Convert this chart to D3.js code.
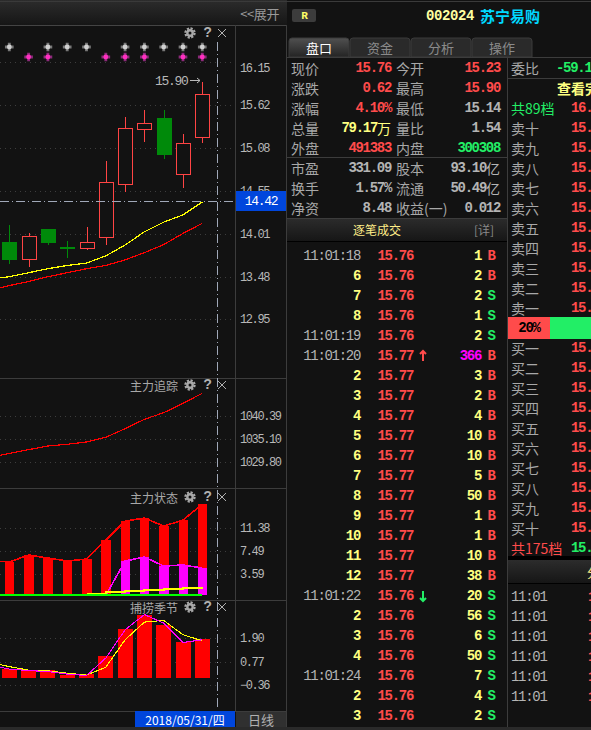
<!DOCTYPE html>
<html>
<head>
<meta charset="utf-8">
<script src="https://cdn.jsdelivr.net/npm/d3@7"></script>
<style>
  html, body { margin: 0; padding: 0; background: #111; overflow: hidden; }
  text { dominant-baseline: central; }
  .cjk { font-family: "Noto Sans CJK SC", sans-serif; }
  .num { font-family: "Liberation Mono", "DejaVu Sans Mono", monospace; letter-spacing: -1.3px; }
  .crisp { shape-rendering: crispEdges; }
</style>
</head>
<body>
<div id="container"></div>
<script>
// Trading days on the chart, the first one only shows up in the moving averages
let dates = ["05/16", "05/17", "05/18", "05/21", "05/22", "05/23", "05/24", "05/25", "05/28", "05/29", "05/30", "05/31"];
let candleDates = dates.slice(1);

// Candles
let opens  = [13.91, 13.70, 14.07, 13.85, 13.83, 13.97, 14.63, 15.32, 15.46, 14.76, 15.23];
let closes = [13.69, 13.99, 13.90, 13.82, 13.91, 14.66, 15.33, 15.40, 15.00, 15.14, 15.76];
let highs  = [14.12, 14.03, 14.08, 13.93, 14.10, 14.92, 15.47, 15.56, 15.56, 15.26, 15.90];
let lows   = [13.64, 13.60, 13.87, 13.71, 13.81, 13.87, 14.53, 15.16, 14.95, 14.58, 15.14];
let maYellow = [13.45, 13.48, 13.53, 13.58, 13.62, 13.65, 13.74, 13.875, 14.04, 14.16, 14.25, 14.41];
let maRed    = [13.31, 13.37, 13.42, 13.48, 13.53, 13.58, 13.62, 13.69, 13.78, 13.88, 14.02, 14.145];
let priceTicks = [16.15, 15.62, 15.08, 14.55, 14.01, 13.48, 12.95];
let greyStarDates = ["05/17", "05/21", "05/22", "05/23", "05/25", "05/28", "05/29", "05/30", "05/31"];
let pinkStarDates = ["05/18", "05/21", "05/24", "05/25", "05/28", "05/30", "05/31"];

// 主力追踪
let trackLine = [1030.96, 1031.83, 1032.71, 1033.56, 1033.95, 1034.48, 1035.56, 1037.54, 1039.70, 1041.22, 1043.38, 1045.68];
let trackTicks = [1040.39, 1035.10, 1029.80];

// 主力状态
let stateRed = [5.83, 5.60, 6.78, 6.27, 5.77, 6.11, 9.30, 12.49, 13.00, 11.65, 12.66, 15.35];
let statePinkDates = ["05/24", "05/25", "05/28", "05/29", "05/30", "05/31"];
let statePink = [0, 5.77, 6.44, 4.93, 5.10, 4.59];
let stateYellowDates = ["05/23", "05/24", "05/25", "05/28", "05/29", "05/30", "05/31"];
let stateYellow = [0.28, 0.50, 0.70, 0.95, 1.12, 1.29, 1.46];
let stateTicks = [11.38, 7.49, 3.59];

// 捕捞季节
let seasonBars = [0.42, 0.37, 0.38, 0.14, 0.16, 1.06, 2.36, 3.03, 2.55, 1.73, 1.88];
let seasonYellow = [0.74, 0.54, 0.37, 0.34, 0.22, 0.13, 0.51, 1.83, 2.68, 2.76, 2.07, 1.78];
let seasonPink = [0.61, 0.42, 0.35, 0.30, 0.18, 0.11, 0.95, 2.31, 3.04, 2.63, 1.70, 1.83];
let seasonTicks = [1.90, 0.77, -0.36];

// Quote table
let quoteLabelsA = ["现价", "涨跌", "涨幅", "总量", "外盘", "市盈", "换手", "净资"];
let quoteValuesA = ["15.76", "0.62", "4.10%", "79.17万", "491383", "331.09", "1.57%", "8.48"];
let quoteColorsA = ["red", "red", "red", "yellow", "red", "grey", "grey", "grey"];
let quoteLabelsB = ["今开", "最高", "最低", "量比", "内盘", "股本", "流通", "收益(一)"];
let quoteValuesB = ["15.23", "15.90", "15.14", "1.54", "300308", "93.10亿", "50.49亿", "0.012"];
let quoteColorsB = ["red", "red", "grey", "grey", "green", "grey", "grey", "grey"];

// Trades
let tradeTimes = ["11:01:18", "6", "7", "8", "11:01:19", "11:01:20", "2", "3", "4", "5", "6", "7", "8", "9", "10", "11", "12", "11:01:22", "2", "3", "4", "11:01:24", "2", "3"];
let tradePrices = [15.76, 15.76, 15.76, 15.76, 15.76, 15.77, 15.77, 15.77, 15.77, 15.77, 15.77, 15.77, 15.77, 15.77, 15.77, 15.77, 15.77, 15.76, 15.76, 15.76, 15.76, 15.76, 15.76, 15.76];
let tradeVolumes = [1, 2, 2, 1, 2, 366, 3, 2, 4, 10, 10, 5, 50, 1, 1, 10, 38, 20, 56, 6, 50, 7, 4, 2];
let tradeSides = ["B", "B", "S", "S", "S", "B", "B", "B", "B", "B", "B", "B", "B", "B", "B", "B", "B", "S", "S", "S", "S", "S", "S", "S"];

// Order book
let sellLabels = ["卖十", "卖九", "卖八", "卖七", "卖六", "卖五", "卖四", "卖三", "卖二", "卖一"];
let buyLabels = ["买一", "买二", "买三", "买四", "买五", "买六", "买七", "买八", "买九", "买十"];
let tickTimes = ["11:01", "11:01", "11:01", "11:01", "11:01", "11:01"];

let colors = { red: "#ff4b4b", yellow: "#ffff80", grey: "#b4b4b4", green: "#22ee66" };
let w = 591, h = 730;
let plotRight = 235;

let svg = d3.select("#container").append("svg").attr("width", w).attr("height", h)
  .style("display", "block").style("background", "#121212");

// Small helper for all the plain labels
function label(x, y, str, color, size, anchor, cls, weight) {
  return svg.append("text").attr("x", x).attr("y", y).text(str)
    .attr("fill", color).attr("font-size", size)
    .attr("text-anchor", anchor || "start")
    .attr("class", cls || "cjk")
    .attr("font-weight", weight || "normal");
}
function hline(x1, x2, y, color) {
  svg.append("line").attr("class", "crisp").attr("x1", x1).attr("x2", x2).attr("y1", y).attr("y2", y).attr("stroke", color);
}
function vline(x, y1, y2, color) {
  svg.append("line").attr("class", "crisp").attr("x1", x).attr("x2", x).attr("y1", y1).attr("y2", y2).attr("stroke", color);
}
function box(x, y, width, height, fill) {
  return svg.append("rect").attr("class", "crisp").attr("x", x).attr("y", y).attr("width", width).attr("height", height).attr("fill", fill);
}

// Gradients for the title strips
let defs = svg.append("defs");
let grad = defs.append("linearGradient").attr("id", "strip").attr("x1", 0).attr("x2", 0).attr("y1", 0).attr("y2", 1);
grad.append("stop").attr("offset", "0%").attr("stop-color", "#2c2c2c");
grad.append("stop").attr("offset", "100%").attr("stop-color", "#161616");
let gradTab = defs.append("linearGradient").attr("id", "tabOn").attr("x1", 0).attr("x2", 0).attr("y1", 0).attr("y2", 1);
gradTab.append("stop").attr("offset", "0%").attr("stop-color", "#505050");
gradTab.append("stop").attr("offset", "100%").attr("stop-color", "#242424");

// Shared x scale, bars sit on these points
let x = d3.scalePoint().domain(dates).range([-10, 202.3]);

// y scales for the four panes
let yPrice = d3.scaleLinear().domain([16.15, 12.95]).range([62.3, 319.3]);
let yTrack = d3.scaleLinear().domain([1040.39, 1029.80]).range([416.3, 462.3]);
let yState = d3.scaleLinear().domain([0, 11.38]).range([595.3, 527.7]);
let ySeason = d3.scaleLinear().domain([1.90, -0.36]).range([638.3, 685.3]);

// Pane frames
box(0, 0, 287, 25, "url(#strip)");
hline(0, 591, 1, "#3a3a3a");
hline(0, 287, 25, "#444");
label(279, 13, "<<展开", "#9a9a9a", 13, "end").attr("letter-spacing", -0.4);
vline(235.5, 25, 711, "#3c3c3c");
vline(286.5, 25, 730, "#3c3c3c");
[378, 488, 600, 711].forEach(function(py) { hline(0, 287, py, "#3c3c3c"); });

// Dotted grid and tick labels from the d3 axes
function drawAxis(scale, ticks, fmt) {
  svg.append("g").call(d3.axisLeft(scale).tickValues(ticks).tickSize(-plotRight).tickFormat(""))
    .call(function(g) { g.select(".domain").remove(); })
    .call(function(g) { g.selectAll("line").attr("stroke", "#3d3d3d").attr("stroke-dasharray", "1,4").attr("class", "crisp"); });
  return svg.append("g").attr("transform", "translate(" + plotRight + ",0)")
    .call(d3.axisRight(scale).tickValues(ticks).tickSize(0).tickPadding(5).tickFormat(fmt))
    .call(function(g) { g.select(".domain").remove(); })
    .call(function(g) {
      g.selectAll("text").attr("fill", "#b8b8b8").attr("font-size", 12).attr("dy", 0.5)
        .attr("letter-spacing", -1.4)
        .attr("font-family", "'Liberation Mono', monospace");
    });
}
let f2 = d3.format(".2f");
// top price label hangs below its grid line in the original
drawAxis(yPrice, priceTicks, f2).selectAll("text")
  .attr("dy", function(d) { return d == priceTicks[0] ? 6 : 0.5; });
drawAxis(yTrack, trackTicks, f2);
drawAxis(yState, stateTicks, f2);
drawAxis(ySeason, seasonTicks, function(d) { return f2(d).replace("-", "−"); });

// Signal stars above the candles
function stars(list, py, light, dark) {
  let g = svg.append("g");
  g.selectAll("path").data(list).enter().append("path")
    .attr("d", d3.symbol().type(d3.symbolCross).size(42))
    .attr("transform", function(d) { return "translate(" + x(d) + "," + py + ")"; })
    .attr("fill", dark);
  g.selectAll("circle").data(list).enter().append("circle")
    .attr("cx", function(d) { return x(d); }).attr("cy", py).attr("r", 2.4).attr("fill", light);
}
stars(greyStarDates, 47, "#d0d0d0", "#777");
stars(pinkStarDates, 57, "#ff30c0", "#8a2a78");

// Moving averages
function drawLine(xs, vals, scale, color, width, curve) {
  let line = d3.line().x(function(d, i) { return x(xs[i]); }).y(function(d) { return scale(d); });
  if (curve) line.curve(curve);
  svg.append("path").datum(vals).attr("d", line).attr("fill", "none")
    .attr("stroke", color).attr("stroke-width", width).attr("class", "crisp");
}
drawLine(dates, maYellow, yPrice, "#ffff00", 1.2);
drawLine(dates, maRed, yPrice, "#ff0000", 1.2);

// Candles
candleDates.forEach(function(d, i) {
  let up = closes[i] >= opens[i];
  let color = up ? "#ff4444" : "#008a0a";
  let cx = Math.round(x(d)) + 0.5;
  let top = yPrice(Math.max(opens[i], closes[i]));
  let bot = yPrice(Math.min(opens[i], closes[i]));
  vline(cx, yPrice(highs[i]), top, color);
  vline(cx, bot, yPrice(lows[i]), color);
  if (up) {
    svg.append("rect").attr("class", "crisp").attr("x", cx - 7).attr("y", Math.round(top) + 0.5)
      .attr("width", 14).attr("height", Math.round(bot - top))
      .attr("fill", "#121212").attr("stroke", color);
  } else {
    box(cx - 7.5, top, 15, bot - top, color);
  }
});
label(155, 81, "15.90", "#b8b8b8", 13, "start", "num");
svg.append("path").attr("d", "M190 80.5H200M197 78L200 80.5L197 83").attr("fill", "none").attr("stroke", "#b8b8b8");

// Pane 主力追踪
drawLine(dates, trackLine, yTrack, "#ff0000", 1.2);

// Pane 主力状态
svg.append("g").selectAll("rect").data(candleDates).enter().append("rect").attr("class", "crisp")
  .attr("x", function(d) { return x(d) - 4.5; }).attr("width", 9.5)
  .attr("y", function(d, i) { return yState(stateRed[i + 1]); })
  .attr("height", function(d, i) { return yState(0) - yState(stateRed[i + 1]); })
  .attr("fill", "#ff0000");
svg.append("g").selectAll("rect").data(statePinkDates).enter().append("rect").attr("class", "crisp")
  .attr("x", function(d) { return x(d) - 4.5; }).attr("width", 9.5)
  .attr("y", function(d, i) { return yState(statePink[i]); })
  .attr("height", function(d, i) { return yState(0) - yState(statePink[i]); })
  .attr("fill", "#ff00ff");
drawLine(statePinkDates, statePink, yState, "#ff00ff", 1.6);
drawLine(dates, stateRed, yState, "#ff0000", 1.6);
drawLine(stateYellowDates, stateYellow, yState, "#ffff00", 2, d3.curveStepAfter);
svg.append("path").datum([0, 0]).attr("class", "crisp")
  .attr("d", d3.line().x(function(d, i) { return x(dates[i * (dates.length - 1)]); }).y(function(d) { return yState(d); }))
  .attr("stroke", "#00ff00").attr("stroke-width", 2);

// Pane 捕捞季节
svg.append("g").selectAll("rect").data(candleDates).enter().append("rect").attr("class", "crisp")
  .attr("x", function(d) { return x(d) - 7.5; }).attr("width", 15)
  .attr("y", function(d, i) { return ySeason(seasonBars[i]); })
  .attr("height", function(d, i) { return ySeason(0) - ySeason(seasonBars[i]); })
  .attr("fill", "#ff0000");
drawLine(dates, seasonYellow, ySeason, "#ffff00", 1.1);
drawLine(dates, seasonPink, ySeason, "#ff00ff", 1.1);

// Crosshair
let crossColor = "#a0a8b8";
svg.append("line").attr("class", "crisp").attr("x1", 217.5).attr("x2", 217.5).attr("y1", 42).attr("y2", 709)
  .attr("stroke", crossColor).attr("stroke-dasharray", "9,3,1,3");
svg.append("line").attr("class", "crisp").attr("x1", 0).attr("x2", plotRight).attr("y1", 201.5).attr("y2", 201.5)
  .attr("stroke", crossColor).attr("stroke-dasharray", "9,3,1,3");

// Pane titles and their little buttons
function paneTools(py, title) {
  if (title) label(178, py, title, "#a8a8a8", 12, "end");
  // gear: toothed ring, solid body, hole
  svg.append("circle").attr("cx", 190).attr("cy", py).attr("r", 4.6).attr("fill", "none")
    .attr("stroke", "#a8a8a8").attr("stroke-width", 2.2).attr("stroke-dasharray", "2.2,1.4");
  svg.append("circle").attr("cx", 190).attr("cy", py).attr("r", 3.9).attr("fill", "#a8a8a8");
  svg.append("circle").attr("cx", 190).attr("cy", py).attr("r", 1.5).attr("fill", "#121212");
  label(207, py, "?", "#b0b0b0", 14, "middle", "num", "bold");
  svg.append("path").attr("d", "M" + 218 + " " + (py - 4) + "l8 8m0 -8l-8 8").attr("stroke", "#b0b0b0").attr("fill", "none");
}
paneTools(33, null);
paneTools(385, "主力追踪");
paneTools(497, "主力状态");
paneTools(607, "捕捞季节");

// Current price flag on the axis
box(236, 191, 50, 20, "#0046dc");
label(261, 201, "14.42", "#ffffff", 13, "middle", "num");

// Date strip at the bottom
box(135, 711, 100, 16, "#0046dc");
label(185, 719, "2018/05/31/四", "#ffffff", 12, "middle");
box(236, 712, 50, 15, "#303030");
label(261, 719, "日线", "#b0b0b0", 13, "middle");
box(0, 727, 591, 3, "#2a2a2a");

// Right side header
box(287, 2, 304, 33, "#121212");
svg.append("rect").attr("x", 292).attr("y", 9).attr("width", 24).attr("height", 13).attr("rx", 2).attr("fill", "#3c3c3c");
label(304, 16, "R", "#ffff66", 11, "middle", "num", "bold");
label(426, 16, "002024", "#ffffa0", 14, "start", "num", "bold").style("letter-spacing", "-0.4px");
label(480, 15, "苏宁易购", "#00d8ff", 15, "start", "cjk", "bold");

// Tabs
let tabNames = ["盘口", "资金", "分析", "操作"];
tabNames.forEach(function(name, i) {
  let tx = 289 + i * 61;
  svg.append("path").attr("d", "M" + tx + " 57V41q0 -3 3 -3H" + (tx + 57) + "q3 0 3 3V57Z")
    .attr("fill", i == 0 ? "url(#tabOn)" : "#2a2a2a").attr("stroke", "#3a3a3a");
  label(tx + 30, 47, name, i == 0 ? "#ffffff" : "#8a8a8a", 13, "middle");
});
hline(287, 591, 57.5, "#3c3c3c");

// digits in mono, trailing unit glyph in cjk
function valueText(rx, py, str, color) {
  let t = svg.append("text").attr("x", rx).attr("y", py).attr("text-anchor", "end")
    .attr("fill", color).attr("font-size", 14).attr("font-weight", "bold").attr("class", "num");
  t.append("tspan").text(str.replace(/[万亿]/, ""));
  let unit = str.match(/[万亿]/);
  if (unit) t.append("tspan").text(unit[0]).attr("class", "cjk").attr("font-weight", "normal").style("letter-spacing", "0");
  return t;
}

// Quote table
quoteLabelsA.forEach(function(name, i) {
  let py = 68 + i * 20;
  label(291, py - 0.5, name, "#a8a8a8", 14);
  valueText(391, py, quoteValuesA[i], colors[quoteColorsA[i]]);
  label(396, py - 0.5, quoteLabelsB[i], "#a8a8a8", 14);
  valueText(500, py, quoteValuesB[i], colors[quoteColorsB[i]]);
});
hline(287, 507, 157.5, "#3c3c3c");
box(287, 218, 220, 23, "url(#strip)");
hline(287, 507, 218, "#3c3c3c");
hline(287, 507, 241.5, "#000");
label(377, 229, "逐笔成交", "#ffee88", 12, "middle");
label(484, 229, "[详]", "#8a8a8a", 12, "middle");
vline(507.5, 58, 727, "#3c3c3c");

// Trades list
tradeTimes.forEach(function(t, i) {
  let py = 256 + i * 20;
  let big = t.length > 2;
  label(360, py, t, big ? "#b4b4b4" : colors.yellow, 14, "end", "num", big ? "normal" : "bold");
  label(413, py, f2(tradePrices[i]), colors.red, 14, "end", "num", "bold");
  label(481, py, tradeVolumes[i], tradeVolumes[i] > 100 ? "#ff00ff" : colors.yellow, 14, "end", "num", "bold");
  label(491, py, tradeSides[i], tradeSides[i] == "B" ? colors.red : colors.green, 14, "middle", "num", "bold");
  // arrow when the price moves between two trades
  if (i > 0 && tradePrices[i] != tradePrices[i - 1]) {
    let d = tradePrices[i] > tradePrices[i - 1] ? "M423 " + (py + 5) + "V" + (py - 5) + "M420 " + (py - 2) + "L423 " + (py - 5) + "L426 " + (py - 2)
                                               : "M423 " + (py - 5) + "V" + (py + 5) + "M420 " + (py + 2) + "L423 " + (py + 5) + "L426 " + (py + 2);
    svg.append("path").attr("d", d).attr("fill", "none").attr("stroke-width", 2)
      .attr("stroke", tradePrices[i] > tradePrices[i - 1] ? colors.red : colors.green);
  }
});

// Order book, cut off by the window
label(511, 67.5, "委比", "#a8a8a8", 14);
label(556, 68, "-59.14", colors.green, 14, "start", "num", "bold");
hline(507, 591, 78.5, "#3c3c3c");
label(557, 87.5, "查看完整", colors.yellow, 14, "start", "cjk", "bold");
label(511, 107.5, "共89档", colors.green, 14);
label(571, 108, "16.", colors.red, 14, "start", "num", "bold");
sellLabels.forEach(function(name, i) {
  label(511, 127.5 + i * 20, name, "#a8a8a8", 14);
  label(571, 128 + i * 20, "15.", colors.red, 14, "start", "num", "bold");
});
box(508, 317, 42, 22, "#ff4b4b");
box(550, 317, 41, 22, "#22ee66");
label(529, 328, "20%", "#000", 14, "middle", "num", "bold");
buyLabels.forEach(function(name, i) {
  label(511, 347.5 + i * 20, name, "#a8a8a8", 14);
  label(571, 348 + i * 20, "15.", colors.red, 14, "start", "num", "bold");
});
label(511, 547.5, "共175档", colors.red, 14);
label(571, 548, "15.", colors.green, 14, "start", "num", "bold");
box(508, 556, 83, 4, "#000");
box(508, 560, 83, 23, "url(#strip)");
hline(508, 591, 583.5, "#000");
label(587, 572, "分笔", "#ffee88", 12);
tickTimes.forEach(function(t, i) {
  label(511, 597 + i * 20, t, "#b4b4b4", 14, "start", "num");
  label(588, 597 + i * 20, "15.76", colors.red, 14, "start", "num", "bold");
});
</script>
</body>
</html>
